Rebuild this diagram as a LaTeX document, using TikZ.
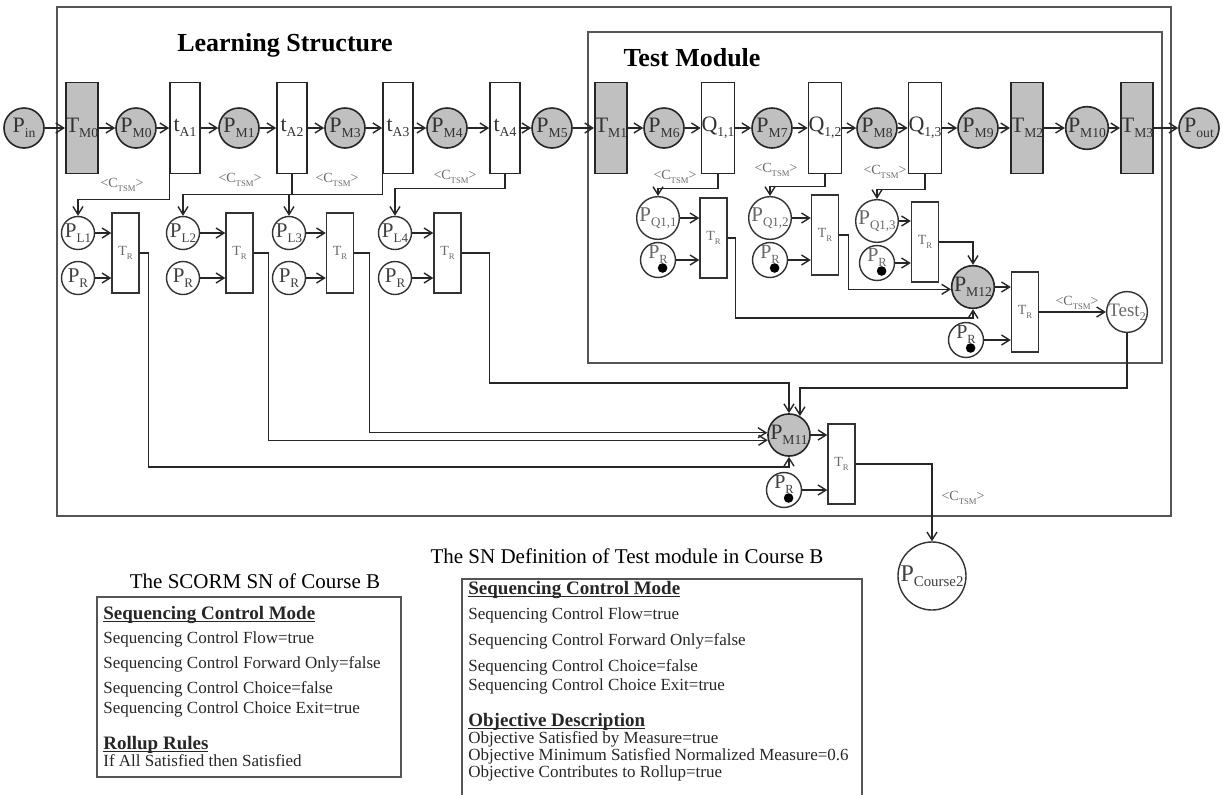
\documentclass[tikz,border=0pt]{standalone}
\usepackage{fontspec}
\usepackage{graphicx}
\setmainfont{Liberation Serif}
\usetikzlibrary{positioning,arrows.meta,calc}
\definecolor{placegray}{RGB}{192,192,192}
\definecolor{boxgray}{RGB}{85,85,85}
\definecolor{labgray}{RGB}{105,105,105}
\newcommand{\sbx}[1]{\raisebox{-0.5ex}{\scalebox{0.62}{#1}}}
\newcommand{\tokenlab}{P\sbx{R}\rule[-8pt]{0pt}{0pt}}
\newcommand{\headline}[1]{\underline{\smash{#1}}}

\tikzset{
  >={Straight Barb[length=4pt,width=5pt]},
  place/.style={circle,draw=black!85,line width=0.8pt,fill=placegray,minimum size=20pt,inner sep=0pt,font=\fontsize{11}{12}\selectfont,text=black!80},
  trans/.style={rectangle,draw=black!85,line width=0.8pt,fill=white,minimum width=15pt,minimum height=45.5pt,inner sep=0pt,font=\fontsize{11}{12}\selectfont,text=black!80},
  gtrans/.style={trans,fill=placegray},
  lplace/.style={circle,draw=black!80,line width=0.7pt,fill=white,minimum size=16.5pt,inner sep=0pt,font=\fontsize{10.5}{11}\selectfont,text=black!75},
  tplace/.style={lplace,minimum size=17pt,font=\fontsize{10}{11}\selectfont,path picture={\fill[black] ([xshift=2.3pt,yshift=-4pt]path picture bounding box.center) circle (2.4pt);}},
  rtrans/.style={rectangle,draw=black!80,line width=0.7pt,fill=white,minimum width=13.5pt,minimum height=40pt,inner sep=0pt,font=\fontsize{7}{8}\selectfont,text=labgray},
  arc/.style={->,line width=0.7pt,draw=black!85},
  ctsm/.style={font=\fontsize{7}{8}\selectfont,text=labgray,inner sep=0pt},
  frame/.style={draw=boxgray,line width=1pt},
  title/.style={font=\fontsize{13}{15}\selectfont\bfseries,inner sep=0pt},
  capt/.style={anchor=base,font=\fontsize{10.5}{12}\selectfont,inner sep=0pt},
  txt/.style={anchor=base west,inner sep=0pt,font=\fontsize{8.5}{10}\selectfont,text=black!85},
  head/.style={txt,font=\fontsize{9.5}{11}\selectfont\bfseries},
}

\begin{document}
\begin{tikzpicture}[x=0.5pt,y=-0.5pt]
\useasboundingbox (0,0) rectangle (1223,794);
% frames
\draw[frame] (57,7) rectangle (1171,516);
\draw[frame] (588,32) rectangle (1162,363);
\node[title] (lstitle) at (285,45) {Learning Structure};
\node[title] (tmtitle) at (692,58) {Test Module};

% main row
\node[place]  (pin)  at (24,128)   {P\sbx{in}};
\node[gtrans] (tm0)  at (82,128)   {T\sbx{M0}};
\node[place]  (pm0)  at (136,128)  {P\sbx{M0}};
\node[trans]  (ta1)  at (185,128)  {t\sbx{A1}};
\node[place]  (pm1)  at (239,128)  {P\sbx{M1}};
\node[trans]  (ta2)  at (292,128)  {t\sbx{A2}};
\node[place]  (pm3)  at (345,128)  {P\sbx{M3}};
\node[trans]  (ta3)  at (398,128)  {t\sbx{A3}};
\node[place]  (pm4)  at (447,128)  {P\sbx{M4}};
\node[trans]  (ta4)  at (505,128)  {t\sbx{A4}};
\node[place]  (pm5)  at (552,128)  {P\sbx{M5}};
\node[gtrans] (tm1)  at (611,128)  {T\sbx{M1}};
\node[place]  (pm6)  at (664,128)  {P\sbx{M6}};
\node[trans]  (q11)  at (718,128)  {Q\sbx{1,1}};
\node[place]  (pm7)  at (772,128)  {P\sbx{M7}};
\node[trans]  (q12)  at (825,128)  {Q\sbx{1,2}};
\node[place]  (pm8)  at (877,128)  {P\sbx{M8}};
\node[trans]  (q13)  at (925,128)  {Q\sbx{1,3}};
\node[place]  (pm9)  at (978,128)  {P\sbx{M9}};
\node[gtrans] (tm2)  at (1027,128) {T\sbx{M2}};
\node[place]  (pm10) at (1087,128) {P\sbx{M10}};
\node[gtrans] (tm3)  at (1137,128) {T\sbx{M3}};
\node[place]  (pout) at (1199,128) {P\sbx{out}};
\foreach \a/\b in {pin/tm0,tm0/pm0,pm0/ta1,ta1/pm1,pm1/ta2,ta2/pm3,pm3/ta3,ta3/pm4,pm4/ta4,ta4/pm5,pm5/tm1,tm1/pm6,pm6/q11,q11/pm7,pm7/q12,q12/pm8,pm8/q13,q13/pm9,pm9/tm2,tm2/pm10,pm10/tm3,tm3/pout}
  \draw[arc] (\a.east) -- (\b.west);

% learning structure rollup
\foreach \i/\xx/\tx in {1/78/125.5,2/183/239.5,3/289/340,4/395/447.5} {
  \node[lplace] (pl\i) at (\xx,233) {P\sbx{L\i}};
  \node[lplace] (pr\i) at (\xx,278) {P\sbx{R}};
  \node[rtrans] (tr\i) at (\tx,253) {T\sbx{R}};
  \draw[arc] (pl\i.east) -- (pl\i.east -| tr\i.west);
  \draw[arc] (pr\i.east) -- (pr\i.east -| tr\i.west);
}
\draw[arc] (ta1.south west) -- ++(0,25) -| (pl1.north);
\draw[arc] (ta2.south) -- ++(0,20) -| (pl2.north);
\draw[arc] (ta3.south west) -- ++(0,20) -| (pl3.north);
\draw[arc] (ta4.south) -- ++(0,14) -| (pl4.north);
\node[ctsm] (c1) at (122,185) {<C\sbx{TSM}>};
\node[ctsm] (c2) at (240,180) {<C\sbx{TSM}>};
\node[ctsm] (c3) at (337,180) {<C\sbx{TSM}>};
\node[ctsm] (c4) at (455,177) {<C\sbx{TSM}>};

% test module rollup
\foreach \i/\xx/\yy/\tx/\ty in {1/658/218/713.5/238,2/770/218/825/235,3/877/221/925/242} {
  \node[lplace,text=labgray] (pq\i) at (\xx,\yy) {P\sbx{Q1,\i}};
  \node[tplace,text=labgray] (pqr\i) at (\xx,\yy+42) {\tokenlab};
  \node[rtrans] (ts\i) at (\tx,\ty) {T\sbx{R}};
  \draw[arc] (pq\i.east) -- (pq\i.east -| ts\i.west);
  \draw[arc] (pqr\i.east) -- (pqr\i.east -| ts\i.west);
}
\draw[arc] (q11.south) -- ++(0,14) -| (pq1.north);
\draw[arc] (q12.south) -- ++(0,12) -| (pq2.north);
\draw[arc] (q13.south) -- ++(0,15) -| (pq3.north);
\node[ctsm] (c5) at (675,177) {<C\sbx{TSM}>};
\node[ctsm] (c6) at (776,170) {<C\sbx{TSM}>};
\node[ctsm] (c7) at (885,172) {<C\sbx{TSM}>};

\node[place,minimum size=21pt] (pm12) at (973,287) {P\sbx{M12}};
\node[rtrans] (ts4) at (1025,312) {T\sbx{R}};
\node[tplace,text=black!75] (pqr4) at (966,340) {\tokenlab};
\node[lplace,minimum size=20pt,font=\fontsize{9.5}{10}\selectfont,text=labgray] (test2) at (1127,312) {Test\sbx{2}};
\draw[arc] (ts1.east) -- ++(8,0) |- ($(pm12.south)+(0,9)$) -- (pm12.south);
\draw[arc] (ts2.east) -- ++(9,0) |- (pm12.186);
\draw[arc] (ts3.east) -| (pm12.north);
\draw[arc] (pm12.east) -- (pm12.east -| ts4.west);
\draw[arc] (pqr4.east) -- (pqr4.east -| ts4.west);
\draw[arc] (ts4.east) -- (test2.west);
\node[ctsm] (c8) at (1077,303) {<C\sbx{TSM}>};

% course rollup
\node[place,minimum size=21pt] (pm11) at (789,435) {P\sbx{M11}};
\node[rtrans] (tr5) at (841.5,464) {T\sbx{R}};
\node[tplace,text=black!75] (pr5) at (784,490) {\tokenlab};
\node[lplace,minimum size=34pt,font=\fontsize{12}{13}\selectfont] (pcourse) at (932,576) {P\sbx{Course2}};
\draw[arc] (tr1.east) -- ++(9,0) |- ($(pm11.south)+(0,10)$) -- (pm11.south);
\draw[arc] (tr2.east) -- ++(15,0) |- (pm11.194);
\draw[arc] (tr3.east) -- ++(15,0) |- (pm11.174);
\draw[arc] (tr4.east) -- ++(28,0) |- ($(pm11.north)+(0,-30)$) -- (pm11.north);
\draw[arc] (test2.south) -- ++(0,55) -| (pm11.60);
\draw[arc] (pm11.east) -- (pm11.east -| tr5.west);
\draw[arc] (pr5.east) -- (pr5.east -| tr5.west);
\draw[arc] (tr5.east) -| (pcourse.north);
\node[ctsm] (c9) at (963,498) {<C\sbx{TSM}>};

% SN of course B
\node[capt] (snb) at (255,588) {The SCORM SN of Course B};
\draw[frame] (97,597) rectangle (401,777);
\node[head] (sh1) at (103,619) {\headline{Sequencing Control Mode}};
\foreach \yy/\tx [count=\i] in {643/Sequencing Control Flow=true,668/Sequencing Control Forward Only=false,693/Sequencing Control Choice=false,713/Sequencing Control Choice Exit=true}
  \node[txt] (sa\i) at (103,\yy) {\tx};
\node[head] (sh2) at (103,749) {\headline{Rollup Rules}};
\node[txt] (sa5) at (103,766) {If All Satisfied then Satisfied};

% SN of test module
\node[capt] (snt) at (627,563) {The SN Definition of Test module in Course B};
\draw[frame] (462,800) -- (462,579) -- (862,579) -- (862,800);
\node[head] (th1) at (468,594) {\headline{Sequencing Control Mode}};
\foreach \yy/\tx [count=\i] in {619/Sequencing Control Flow=true,645/Sequencing Control Forward Only=false,671/Sequencing Control Choice=false,690/Sequencing Control Choice Exit=true}
  \node[txt] (tt\i) at (468,\yy) {\tx};
\node[head] (th2) at (468,726) {\headline{Objective Description}};
\foreach \yy/\tx [count=\i] in {743/Objective Satisfied by Measure=true,760/Objective Minimum Satisfied Normalized Measure=0.6,777/Objective Contributes to Rollup=true}
  \node[txt] (tb\i) at (468,\yy) {\tx};
\end{tikzpicture}
\end{document}
